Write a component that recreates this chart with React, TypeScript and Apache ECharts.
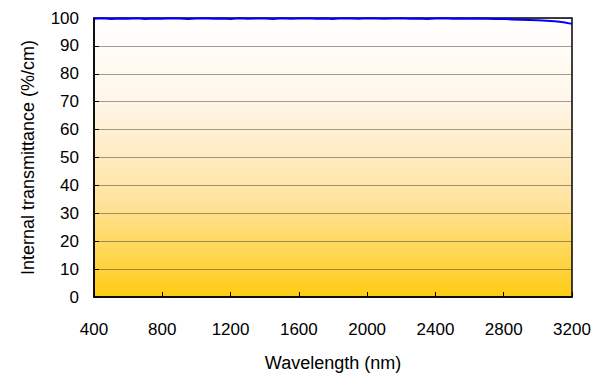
import React, { useEffect, useRef } from "react";
import * as echarts from "echarts";

const wavelengths: number[] = [
  400, 450, 500, 550, 600, 650, 700, 750, 800, 850, 900, 950, 1000, 1050, 1100, 1150,
  1200, 1250, 1300, 1350, 1400, 1450, 1500, 1550, 1600, 1650, 1700, 1750, 1800, 1850,
  1900, 1950, 2000, 2050, 2100, 2150, 2200, 2250, 2300, 2350, 2400, 2450, 2500, 2550,
  2600, 2650, 2700, 2750, 2800, 2850, 2900, 2950, 3000, 3050, 3100, 3150, 3200,
];
const transmittance: number[] = [
  99.7, 99.9, 99.6, 99.8, 99.7, 99.9, 99.6, 99.8, 99.7, 99.9, 99.8, 99.6, 99.8, 99.9, 99.7,
  99.8, 99.6, 99.9, 99.7, 99.8, 99.8, 99.6, 99.9, 99.7, 99.8, 99.9, 99.7, 99.8, 99.6, 99.9,
  99.8, 99.7, 99.9, 99.8, 99.7, 99.8, 99.9, 99.7, 99.8, 99.6, 99.8, 99.9, 99.7, 99.8, 99.7,
  99.8, 99.7, 99.6, 99.6, 99.5, 99.4, 99.3, 99.2, 99.0, 98.8, 98.5, 97.9,
];
const yTicks = { min: 0, max: 100, interval: 10 };
const xTicks = { min: 400, max: 3200, interval: 400 };

export default function App() {
  const ref = useRef<HTMLDivElement>(null);
  useEffect(() => {
    if (!ref.current) return;
    const chart = echarts.init(ref.current, null, { renderer: "svg" });
    const font = "Liberation Sans";
    const fs = 17;
    const nfs = 18;
    chart.setOption({
      animation: false,
      backgroundColor: "#ffffff",
      textStyle: { fontFamily: font },
      grid: {
        left: 94,
        top: 18,
        right: 23,
        bottom: 76,
        show: true,
        borderColor: "#000",
        borderWidth: 1.5,
        backgroundColor: new echarts.graphic.LinearGradient(0, 0, 0, 1, [
          { offset: 0, color: "#FFFFFF" },
          { offset: 0.3, color: "#FFF6E8" },
          { offset: 0.65, color: "#FFE3A0" },
          { offset: 1, color: "#FFCC12" },
        ]),
      },
      xAxis: {
        type: "value",
        min: xTicks.min,
        max: xTicks.max,
        interval: xTicks.interval,
        name: "Wavelength (nm)",
        nameLocation: "middle",
        nameGap: 57,
        nameTextStyle: { color: "#000", fontSize: nfs, fontFamily: font },
        axisLine: { show: true, lineStyle: { color: "#000", width: 1.5 } },
        axisTick: { show: true, inside: true, length: 5, lineStyle: { color: "#000" } },
        axisLabel: {
          color: "#000",
          fontSize: fs,
          margin: 24,
          fontFamily: font,
          formatter: (v: number) => String(v),
        },
        splitLine: { show: false },
      },
      yAxis: {
        type: "value",
        min: yTicks.min,
        max: yTicks.max,
        interval: yTicks.interval,
        name: "Internal transmittance (%/cm)",
        nameLocation: "middle",
        nameGap: 57,
        nameTextStyle: { color: "#000", fontSize: nfs, fontFamily: font },
        axisLine: { show: true, lineStyle: { color: "#000", width: 1.5 } },
        axisTick: { show: true, inside: true, length: 5, lineStyle: { color: "#000" } },
        axisLabel: { color: "#000", fontSize: fs, margin: 15, fontFamily: font },
        splitLine: { show: true, lineStyle: { color: "rgba(40,40,40,0.45)", width: 1 } },
      },
      series: [
        {
          type: "line",
          data: wavelengths.map((w, i) => [w, transmittance[i]]),
          showSymbol: false,
          lineStyle: { color: "#0000FF", width: 2 },
          z: 5,
        },
      ],
    });
    return () => chart.dispose();
  }, []);
  return (
    <div
      ref={ref}
      style={{ position: "fixed", left: 0, top: 0, width: 595, height: 377 }}
    />
  );
}
